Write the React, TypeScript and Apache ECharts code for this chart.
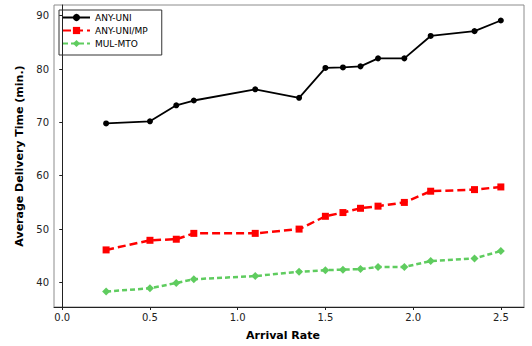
import React, { useEffect, useRef } from "react";
import * as echarts from "echarts";

const arrivalRates = [0.25, 0.5, 0.65, 0.75, 1.1, 1.35, 1.5, 1.6, 1.7, 1.8, 1.95, 2.1, 2.35, 2.5];
const anyUni = [69.8, 70.2, 73.2, 74.1, 76.2, 74.6, 80.2, 80.3, 80.5, 82.0, 82.0, 86.2, 87.1, 89.1];
const anyUniMp = [46.1, 47.9, 48.1, 49.2, 49.2, 50.0, 52.4, 53.1, 53.9, 54.3, 55.0, 57.1, 57.4, 57.9];
const mulMto = [38.3, 38.9, 39.9, 40.6, 41.2, 42.0, 42.3, 42.4, 42.5, 42.9, 42.9, 44.0, 44.5, 45.9];
const xTicks = [0, 0.5, 1.0, 1.5, 2.0, 2.5];
const yTicks = [40, 50, 60, 70, 80, 90];

const pairs = (ys: number[]) => arrivalRates.map((x, i) => [x, ys[i]]);

export default function App() {
  const ref = useRef<HTMLDivElement>(null);
  useEffect(() => {
    if (!ref.current) return;
    const chart = echarts.init(ref.current, null, { renderer: "svg" });
    const font = "DejaVu Sans";
    chart.setOption({
      animation: false,
      backgroundColor: "#fff",
      grid: {
        left: 54,
        top: 5,
        right: 8,
        bottom: 39,
        containLabel: false,
        outerBoundsMode: "none",
        show: true,
        borderColor: "#8c8c8c",
        borderWidth: 1,
      },
      legend: {
        orient: "vertical",
        left: 59,
        top: 10,
        padding: [3, 14, 7, 3],
        itemGap: 4,
        itemWidth: 27,
        itemHeight: 9,
        borderColor: "#333",
        borderWidth: 1,
        textStyle: { fontFamily: font, fontSize: 9, color: "#000" },
        data: ["ANY-UNI", "ANY-UNI/MP", "MUL-MTO"],
      },
      xAxis: {
        type: "value",
        min: -0.047,
        max: 2.632,
        name: "Arrival Rate",
        nameLocation: "middle",
        nameGap: 23,
        nameTextStyle: { fontFamily: font, fontSize: 11, fontWeight: "bold", color: "#000", padding: [0, 12, 0, 0] },
        axisLine: { show: true, lineStyle: { color: "#222", width: 1 } },
        axisTick: { show: true, length: 3, customValues: xTicks, lineStyle: { color: "#222" } },
        axisLabel: {
          customValues: xTicks,
          formatter: (v: number) => v.toFixed(1),
          fontFamily: font,
          fontSize: 10,
          color: "#222",
          margin: 5,
        },
        splitLine: { show: false },
      },
      yAxis: {
        type: "value",
        min: 35.4,
        max: 92,
        name: "Average Delivery Time (min.)",
        nameLocation: "middle",
        nameGap: 29,
        nameTextStyle: { fontFamily: font, fontSize: 11, fontWeight: "bold", color: "#000" },
        axisLine: { show: true, lineStyle: { color: "#222", width: 1 } },
        axisTick: { show: true, length: 3, customValues: yTicks, lineStyle: { color: "#222" } },
        axisLabel: {
          customValues: yTicks,
          fontFamily: font,
          fontSize: 10,
          color: "#222",
          margin: 5,
        },
        splitLine: { show: false },
      },
      series: [
        {
          name: "ANY-UNI",
          type: "line",
          data: pairs(anyUni),
          color: "#000",
          symbol: "circle",
          symbolSize: 6,
          lineStyle: { width: 1.8, color: "#000" },
          itemStyle: { color: "#000" },
        },
        {
          name: "ANY-UNI/MP",
          type: "line",
          data: pairs(anyUniMp),
          color: "#ff0000",
          symbol: "rect",
          symbolSize: 7,
          lineStyle: { width: 2.5, color: "#ff0000", type: [8, 4] },
          itemStyle: { color: "#ff0000" },
        },
        {
          name: "MUL-MTO",
          type: "line",
          data: pairs(mulMto),
          color: "#5fcc5f",
          symbol: "diamond",
          symbolSize: 8,
          lineStyle: { width: 2.5, color: "#5fcc5f", type: [5, 3] },
          itemStyle: { color: "#5fcc5f" },
        },
      ],
    });
    return () => chart.dispose();
  }, []);
  return <div ref={ref} style={{ width: 532, height: 346, position: "absolute", left: 0, top: 0 }} />;
}
